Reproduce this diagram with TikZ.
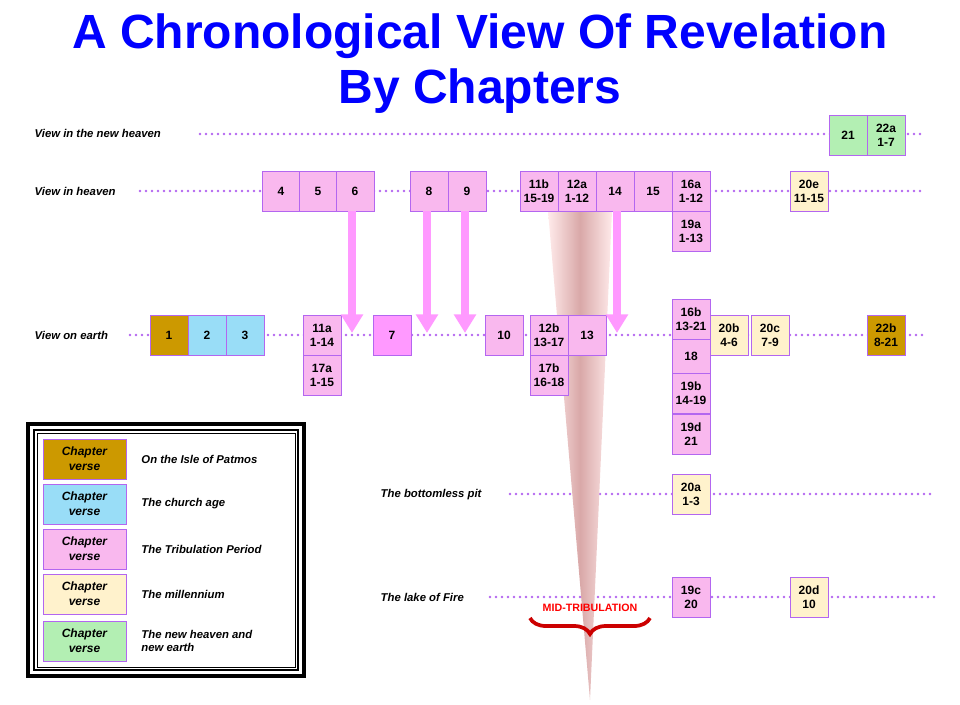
\documentclass[tikz,border=0pt]{standalone}
\usepackage{fontspec}
\setmainfont{Liberation Sans}
\usetikzlibrary{positioning, arrows.meta, decorations.pathreplacing}
\definecolor{trib}{HTML}{F9B8EE}
\definecolor{patmos}{HTML}{CC9900}
\definecolor{church}{HTML}{99DDF7}
\definecolor{mill}{HTML}{FFF2CC}
\definecolor{newh}{HTML}{B3EFB3}
\definecolor{edge}{HTML}{B366F0}
\definecolor{dotc}{HTML}{B366F0}
\definecolor{arrc}{HTML}{FF99FF}
\definecolor{titleblue}{HTML}{0000FF}
\definecolor{conec}{HTML}{D9A8A8}
\tikzset{
  chap/.style={draw=edge, fill=trib, minimum width=28.5pt, minimum height=30pt, inner sep=0pt,
    align=center, font=\bfseries\fontsize{9}{10.5}\selectfont},
  row/.style={font=\bfseries\itshape\fontsize{8.5}{10}\selectfont, anchor=west},
  track/.style={dotc, line width=2.2pt, dash pattern=on 0pt off 4.5pt, line cap=round},
  fall/.style={arrc, line width=6pt, -{Triangle[width=16pt,length=14pt]}},
}
\begin{document}
\begin{tikzpicture}[x=0.75pt, y=-0.75pt]
\useasboundingbox (0,0) rectangle (960,704);
% title
\node[font=\bfseries\fontsize{36}{43}\selectfont, text=titleblue] (T1) at (480,36) {A Chronological View Of Revelation};
\node[font=\bfseries\fontsize{36}{43}\selectfont, text=titleblue] (T2) at (480,91) {By Chapters};
% tracks
\draw[track] (200,134) -- (925,134);
\draw[track] (140,191) -- (925,191);
\draw[track] (130,335) -- (925,335);
\draw[track] (510,494) -- (935,494);
\draw[track] (490,597) -- (935,597);
\node[row] (Lnh) at (30,133) {View in the new heaven};
\node[row] (Lh) at (30,191) {View in heaven};
\node[row] (Le) at (30,335) {View on earth};
\node[row] (Lp) at (376,495) {The bottomless pit};
\node[row] (Lf) at (376,597) {The lake of Fire};
% cone
\shade[left color=red!8, right color=red!8, middle color=conec]
  (548,211) -- (612,211) -- (590,700) -- cycle;
% new heaven
\node[chap, fill=newh] (c21) at (848,135) {21};
\node[chap, fill=newh] (c22a) at (886,135) {22a\\1-7};
% heaven
\node[chap] (c4) at (281,191) {4};
\node[chap] (c5) at (318,191) {5};
\node[chap] (c6) at (355,191) {6};
\node[chap] (c8) at (429,191) {8};
\node[chap] (c9) at (467,191) {9};
\node[chap] (c11b) at (539,191) {11b\\15-19};
\node[chap] (c12a) at (577,191) {12a\\1-12};
\node[chap] (c14) at (615,191) {14};
\node[chap] (c15) at (653,191) {15};
\node[chap] (c16a) at (691,191) {16a\\1-12};
\node[chap, below=0pt of c16a] (c19a) {19a\\1-13};
\node[chap, fill=mill] (c20e) at (809,191) {20e\\11-15};
% earth
\node[chap, fill=patmos] (c1) at (169,335) {1};
\node[chap, fill=church] (c2) at (207,335) {2};
\node[chap, fill=church] (c3) at (245,335) {3};
\node[chap] (c11a) at (322,335) {11a\\1-14};
\node[chap, below=0pt of c11a] (c17a) {17a\\1-15};
\node[chap, fill=arrc] (c7) at (392,335) {7};
\node[chap] (c10) at (504,335) {10};
\node[chap] (c12b) at (549,335) {12b\\13-17};
\node[chap, below=0pt of c12b] (c17b) {17b\\16-18};
\node[chap] (c13) at (587,335) {13};
\node[chap] (c16b) at (691,319) {16b\\13-21};
\node[chap, minimum height=25pt, below=0pt of c16b] (c18) {18};
\node[chap, below=0pt of c18] (c19b) {19b\\14-19};
\node[chap, below=0pt of c19b] (c19d) {19d\\21};
\node[chap, fill=mill] (c20b) at (729,335) {20b\\4-6};
\node[chap, fill=mill] (c20c) at (770,335) {20c\\7-9};
\node[chap, fill=patmos] (c22b) at (886,335) {22b\\8-21};
% pit and lake
\node[chap, fill=mill] (c20a) at (691,494) {20a\\1-3};
\node[chap] (c19c) at (691,597) {19c\\20};
\node[chap, fill=mill] (c20d) at (809,597) {20d\\10};
% arrows
\coordinate (e6) at (352,333);
\coordinate (e8) at (427,333);
\coordinate (e9) at (465,333);
\coordinate (e14) at (617,333);
\draw[fall] (c6.south -| e6) -- (e6);
\draw[fall] (c8.south -| e8) -- (e8);
\draw[fall] (c9.south -| e9) -- (e9);
\draw[fall] (c14.south -| e14) -- (e14);
% mid-tribulation
\node[font=\bfseries\fontsize{8}{9}\selectfont, text=red] (mid) at (590,608) {MID-TRIBULATION};
\coordinate (bl) at (530,618);
\coordinate (br) at (650,618);
\draw[red!80!black, line width=2.8pt, decorate, decoration={brace, amplitude=12pt, mirror}] (bl) -- (br);
% legend
\draw[line width=2.5pt] (28,424) rectangle (304,676);
\draw[line width=1pt] (34,430) rectangle (298,670);
\draw[line width=0.6pt] (37,433) rectangle (295,667);
\foreach \c/\t/\y in {patmos/On the Isle of Patmos/459, church/The church age/504, trib/The Tribulation Period/549, mill/The millennium/594, newh/{The new heaven and\\new earth}/641} {
  \node[chap, fill=\c, minimum width=62pt, font=\bfseries\itshape\fontsize{9}{11.5}\selectfont] (k\y) at (84.5,\y) {Chapter\\verse};
  \node[row, align=left, right=8pt of k\y] (t\y) {\t};
}
\end{tikzpicture}
\end{document}
